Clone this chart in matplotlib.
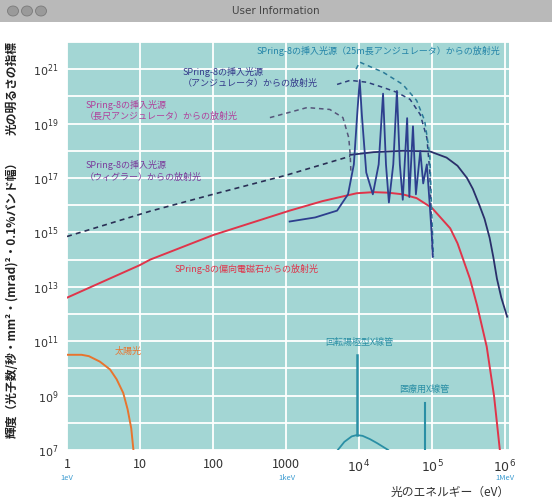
import matplotlib
matplotlib.use('Agg')
import matplotlib.pyplot as plt
import matplotlib.patches as mpatches
import numpy as np

plt.rcParams['font.family'] = ['Noto Sans CJK JP', 'DejaVu Sans']

# curves as (log10 energy [eV], log10 brightness)
sun_logE = [0.0, 0.2, 0.3, 0.45, 0.59, 0.68, 0.77, 0.83, 0.88, 0.91]
sun_logB = [10.5, 10.5, 10.45, 10.25, 9.96, 9.6, 9.1, 8.5, 7.8, 7.0]

bend_logE = [0.0, 1.0, 1.14, 2.0, 3.05, 3.5, 3.97, 4.2, 4.4, 4.6, 4.79, 5.0, 5.1, 5.25, 5.35,
             5.52, 5.62, 5.75, 5.85, 5.93]
bend_logB = [12.6, 13.8, 14.0, 14.9, 15.8, 16.15, 16.44, 16.48, 16.46, 16.4, 16.26, 15.9, 15.6,
             15.15, 14.6, 13.3, 12.3, 10.8, 9.0, 7.0]

wig_dash_logE = [0.0, 1.14, 2.0, 3.0, 3.88]
wig_dash_logB = [14.85, 15.78, 16.4, 17.1, 17.8]
wig_logE = [3.88, 4.2, 4.6, 4.97, 5.2, 5.35, 5.48, 5.56, 5.65, 5.72, 5.79, 5.84, 5.89, 5.95, 6.03]
wig_logB = [17.85, 17.95, 18.0, 17.98, 17.75, 17.45, 17.0, 16.6, 16.0, 15.5, 14.8, 14.1, 13.3, 12.6, 11.9]

und_logE = [3.05, 3.4, 3.7, 3.85, 3.93, 3.98, 4.01, 4.04, 4.1, 4.19, 4.27, 4.33, 4.37, 4.41,
            4.47, 4.52, 4.56, 4.6, 4.66, 4.69, 4.74, 4.78, 4.84, 4.88, 4.93, 4.97, 5.0, 5.01]
und_logB = [15.4, 15.55, 15.8, 16.4, 17.5, 19.5, 20.6, 19.3, 17.2, 16.4, 17.5, 20.1, 17.5, 16.1,
            17.5, 20.2, 17.5, 16.2, 19.2, 16.3, 18.9, 16.4, 18.0, 16.8, 17.5, 16.0, 14.8, 14.1]

und_env_logE = [3.70, 3.88, 4.11, 4.33, 4.52, 4.70, 4.84, 4.93, 4.97, 5.0, 5.01]
und_env_logB = [20.44, 20.59, 20.52, 20.33, 20.15, 19.89, 19.33, 18.48, 17.26, 14.78, 14.15]

und25_logE = [3.96, 4.01, 4.33, 4.60, 4.79, 4.90, 4.97, 5.01, 5.02]
und25_logB = [21.0, 21.26, 20.89, 20.44, 19.85, 19.11, 17.85, 14.78, 14.1]

long_logE = [2.78, 3.29, 3.6, 3.78, 3.86, 3.88, 3.89]
long_logB = [19.22, 19.59, 19.52, 19.22, 18.48, 17.85, 17.2]

tube_arc_logE = [3.71, 3.8, 3.9, 3.97, 4.05, 4.15, 4.25, 4.4]
tube_arc_logB = [7.0, 7.3, 7.5, 7.55, 7.52, 7.4, 7.25, 7.0]
tube_line_logE = 3.97
tube_line_logB = [7.55, 10.5]
med_line_logE = 4.9
med_line_logB = [7.0, 8.74]

ytick_pows = [7, 9, 11, 13, 15, 17, 19, 21]
xtick_pows = [0, 1, 2, 3, 4, 5, 6]
xtick_labels = ['1', '10', '100', '1000', '$10^4$', '$10^5$', '$10^6$']


def pw(a):
    return 10.0 ** np.asarray(a, dtype=float)


fig = plt.figure(figsize=(5.52, 5.01), dpi=100)

# window title bar
bar = mpatches.Rectangle((0, 1 - 22 / 501), 1, 22 / 501, transform=fig.transFigure,
                         facecolor='#b9b9b9', edgecolor='none')
fig.patches.append(bar)
for cx in [13, 27, 41]:
    fig.patches.append(mpatches.Circle((cx / 552, 1 - 11 / 501), 5.5 / 552, transform=fig.transFigure,
                                       facecolor='#9a9a9a', edgecolor='#7a7a7a', lw=0.6))
fig.text(0.5, 1 - 11 / 501, 'User Information', ha='center', va='center', fontsize=7.5, color='#444444',
         family='DejaVu Sans')

ax = fig.add_axes([67 / 552, 1 - 450 / 501, 441.6 / 552, 408 / 501])
ax.set_facecolor('#a3d6d4')
ax.set_xscale('log')
ax.set_yscale('log')
ax.set_xlim(1, 10 ** 6.05)
ax.set_ylim(1e7, 1e22)
for s in ax.spines.values():
    s.set_visible(False)
for p in range(0, 7):
    ax.axvline(10.0 ** p, color='white', lw=1.3, zorder=1)
for p in range(7, 23):
    ax.axhline(10.0 ** p, color='white', lw=1.3, zorder=1)

ax.set_yticks(pw(ytick_pows))
ax.set_yticklabels(['$10^{%d}$' % p for p in ytick_pows], fontsize=8, color='#333333')
ax.set_xticks(pw(xtick_pows))
ax.set_xticklabels(xtick_labels, fontsize=9, color='#333333')
ax.minorticks_off()
ax.tick_params(length=0, pad=6)

ax.plot(pw(sun_logE), pw(sun_logB), color='#e8742e', lw=1.4, zorder=3)
ax.plot(pw(bend_logE), pw(bend_logB), color='#e0344a', lw=1.4, zorder=3)
ax.plot(pw(wig_dash_logE), pw(wig_dash_logB), color='#2a2f55', lw=1.2, ls=(0, (3, 2.5)), zorder=3)
ax.plot(pw(wig_logE), pw(wig_logB), color='#2a2f6a', lw=1.3, zorder=3)
ax.plot(pw(und_logE), pw(und_logB), color='#2d3f8e', lw=1.3, zorder=4)
ax.plot(pw(und_env_logE), pw(und_env_logB), color='#2d3f7a', lw=1.1, ls=(0, (3, 2.5)), zorder=3)
ax.plot(pw(und25_logE), pw(und25_logB), color='#2a7a98', lw=1.1, ls=(0, (3, 2.5)), zorder=3)
ax.plot(pw(long_logE), pw(long_logB), color='#55557a', lw=1.1, ls=(0, (3, 2.5)), zorder=3)

tube_c = '#2a8fa5'
ax.plot(pw(tube_arc_logE), pw(tube_arc_logB), color=tube_c, lw=1.3, zorder=3)
ax.plot(pw([tube_line_logE] * 2), pw(tube_line_logB), color=tube_c, lw=1.8, zorder=3)
ax.plot(pw([med_line_logE] * 2), pw(med_line_logB), color=tube_c, lw=1.5, zorder=3)

fs = 6.5
ax.text(10 ** 5.93, 10 ** 21.67, 'SPring-8の挿入光源（25m長アンジュレータ）からの放射光', ha='right', va='center',
        fontsize=fs, color='#2384a8')
ax.text(10 ** 1.58, 10 ** 20.7, 'SPring-8の挿入光源\n（アンジュレータ）からの放射光', ha='left', va='center',
        fontsize=fs, color='#33398a', linespacing=1.3)
ax.text(10 ** 0.25, 10 ** 19.48, 'SPring-8の挿入光源\n（長尺アンジュレータ）からの放射光', ha='left', va='center',
        fontsize=fs, color='#b0409c', linespacing=1.3)
ax.text(10 ** 0.25, 10 ** 17.26, 'SPring-8の挿入光源\n（ウィグラー）からの放射光', ha='left', va='center',
        fontsize=fs, color='#7a3a9a', linespacing=1.3)
ax.text(10 ** 1.48, 10 ** 13.67, 'SPring-8の偏向電磁石からの放射光', ha='left', va='center',
        fontsize=fs, color='#e0344a')
ax.text(10 ** 0.66, 10 ** 10.63, '太陽光', ha='left', va='center', fontsize=fs, color='#e8742e')
ax.text(10 ** 4.01, 10 ** 10.96, '回転陽極型X線管', ha='center', va='center', fontsize=fs, color=tube_c)
ax.text(10 ** 4.9, 10 ** 9.22, '医療用X線管', ha='center', va='center', fontsize=fs, color=tube_c)

# energy unit marks under axis
for px, t in [(67, '1eV'), (287, '1keV'), (505, '1MeV')]:
    fig.text(px / 552, 1 - 478 / 501, t, ha='center', va='center', fontsize=5.5, color='#3a9ad0')
fig.text(510 / 552, 1 - 492 / 501, '光のエネルギー（eV）', ha='right', va='center', fontsize=8.5, color='#333333')

# y-axis label
fig.text(12 / 552, 1 - 297 / 501, '輝度（光子数/秒・mm²・(mrad)²・0.1%バンド幅）', rotation=90, ha='center',
         va='center', fontsize=8.5, color='#222222', fontweight='bold')
fig.text(12 / 552, 1 - 88 / 501, '光の明るさの指標', rotation=90, ha='center', va='center', fontsize=8.5,
         color='#222222', fontweight='bold')

fig.savefig('out.png', dpi=100)
